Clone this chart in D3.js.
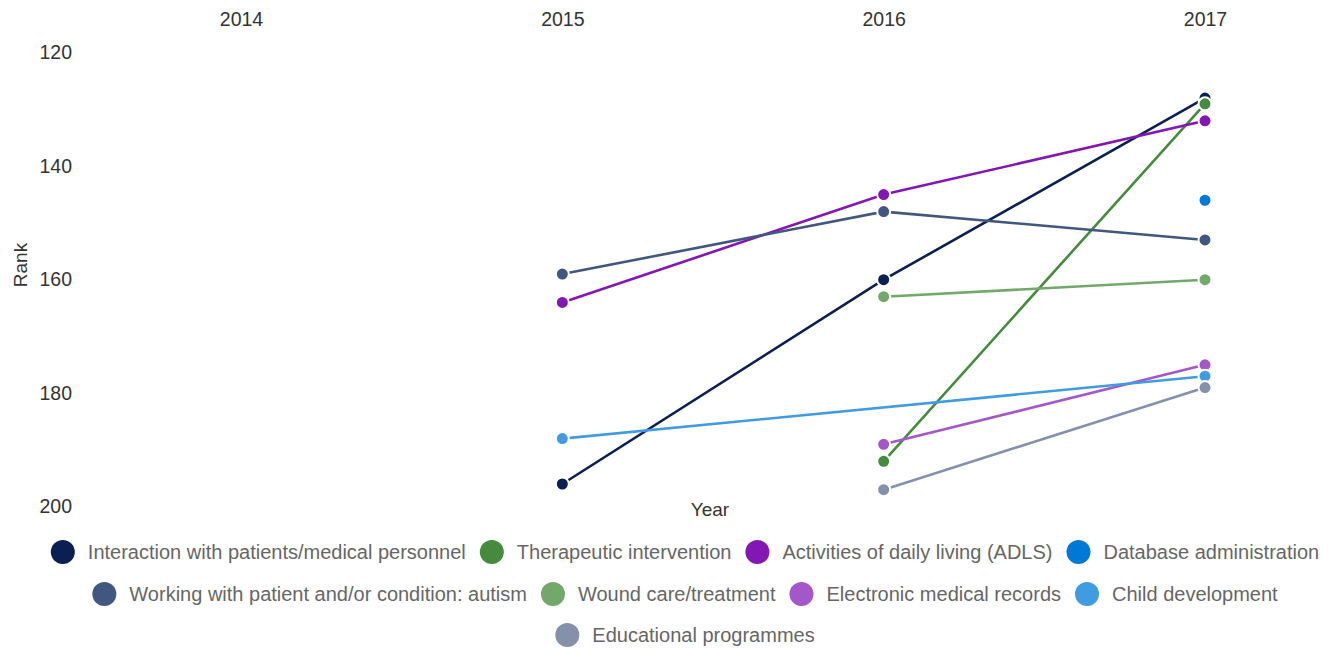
<!DOCTYPE html>
<html>
<head>
<meta charset="utf-8">
<script src="https://cdn.jsdelivr.net/npm/d3@7"></script>
<style>
  html, body { margin: 0; padding: 0; background: #fff; }
  svg { display: block; font-family: "Liberation Sans", Arial, Helvetica, sans-serif; }
</style>
</head>
<body>
<svg id="chart" width="1330" height="652"></svg>
<script>
// Skill rank by year (lower rank number = higher on the chart)
const years = [2014, 2015, 2016, 2017];
const rankTicks = [120, 140, 160, 180, 200];

const seriesNames = [
  "Interaction with patients/medical personnel",
  "Therapeutic intervention",
  "Activities of daily living (ADLS)",
  "Database administration",
  "Working with patient and/or condition: autism",
  "Wound care/treatment",
  "Electronic medical records",
  "Child development",
  "Educational programmes"
];

const seriesColors = [
  "#0b1f52", "#458a3d", "#8317b4", "#0078d6",
  "#42577f", "#73a86b", "#a457c9", "#409be0", "#8591ab"
];

// rank per year: 2014, 2015, 2016, 2017 (null = not ranked)
const interactionRanks = [null, 196, 160, 128];
const therapeuticRanks = [null, null, 192, 129];
const adlsRanks        = [null, 164, 145, 132];
const databaseRanks    = [null, null, null, 146];
const autismRanks      = [null, 159, 148, 153];
const woundRanks       = [null, null, 163, 160];
const emrRanks         = [null, null, 189, 175];
const childDevRanks    = [null, 188, null, 177];
const educationRanks   = [null, null, 197, 179];

const seriesRanks = [
  interactionRanks, therapeuticRanks, adlsRanks, databaseRanks,
  autismRanks, woundRanks, emrRanks, childDevRanks, educationRanks
];

const series = seriesNames.map((name, i) => ({
  name,
  color: seriesColors[i],
  points: years.map((y, j) => ({ year: y, rank: seriesRanks[i][j] }))
               .filter(p => p.rank !== null)
}));

const svg = d3.select("#chart");

const x = d3.scaleLinear().domain([2014, 2017]).range([241, 1205]);
const y = d3.scaleLinear().domain([120, 200]).range([52.7, 506.7]);

// Year axis along the top, no domain line or ticks
const xAxis = svg.append("g")
  .attr("transform", "translate(0,26)")
  .call(d3.axisTop(x).tickValues(years).tickFormat(d3.format("d")).tickSize(0).tickPadding(0));
xAxis.select(".domain").remove();
xAxis.selectAll("text")
  .attr("font-size", 19.5)
  .attr("fill", "#333")
  .attr("font-family", "Liberation Sans, Arial, sans-serif");

// Rank axis on the left
const yAxis = svg.append("g")
  .attr("transform", "translate(72,0)")
  .call(d3.axisLeft(y).tickValues(rankTicks).tickSize(0).tickPadding(0));
yAxis.select(".domain").remove();
yAxis.selectAll("text")
  .attr("font-size", 19.5)
  .attr("fill", "#333")
  .attr("font-family", "Liberation Sans, Arial, sans-serif");

// Axis titles
svg.append("text")
  .attr("transform", "translate(27,265) rotate(-90)")
  .attr("text-anchor", "middle")
  .attr("font-size", 19)
  .attr("fill", "#333")
  .text("Rank");

svg.append("text")
  .attr("x", 710)
  .attr("y", 516)
  .attr("text-anchor", "middle")
  .attr("font-size", 19)
  .attr("fill", "#333")
  .text("Year");

// Lines
const line = d3.line().x(d => x(d.year)).y(d => y(d.rank));

svg.append("g")
  .selectAll("path")
  .data(series)
  .join("path")
  .attr("d", d => line(d.points))
  .attr("fill", "none")
  .attr("stroke", d => d.color)
  .attr("stroke-width", 2.6);

// Points
const pointGroups = svg.append("g")
  .selectAll("g")
  .data(series)
  .join("g");

pointGroups.selectAll("circle")
  .data(d => d.points.map(p => ({ ...p, color: d.color })))
  .join("circle")
  .attr("cx", d => x(d.year))
  .attr("cy", d => y(d.rank))
  .attr("r", 6.5)
  .attr("fill", d => d.color)
  .attr("stroke", "#fff")
  .attr("stroke-width", 2);

// Legend: wrapped rows, centred
const legend = svg.append("g");
const legendFont = 20;
const markerR = 12;
const markerGap = 13;
const itemGap = 14;
const maxRowWidth = 1300;
const legendCenter = 685;
const rowYs = [552, 594, 635];

const items = series.map(s => {
  const g = legend.append("g");
  g.append("circle").attr("r", markerR).attr("fill", s.color);
  const t = g.append("text")
    .attr("x", markerR + markerGap)
    .attr("dy", "0.35em")
    .attr("font-size", legendFont)
    .attr("fill", "#666")
    .text(s.name);
  const w = markerR * 2 + markerGap + t.node().getComputedTextLength();
  return { g, w };
});

const rows = [];
let cur = [], curW = 0;
items.forEach(it => {
  const add = (cur.length ? itemGap : 0) + it.w;
  if (cur.length && curW + add > maxRowWidth) {
    rows.push({ items: cur, width: curW });
    cur = []; curW = 0;
  }
  curW += (cur.length ? itemGap : 0) + it.w;
  cur.push(it);
});
if (cur.length) rows.push({ items: cur, width: curW });

rows.forEach((row, ri) => {
  let xpos = legendCenter - row.width / 2;
  row.items.forEach(it => {
    it.g.attr("transform", `translate(${xpos + markerR},${rowYs[ri]})`);
    xpos += it.w + itemGap;
  });
});
</script>
</body>
</html>
